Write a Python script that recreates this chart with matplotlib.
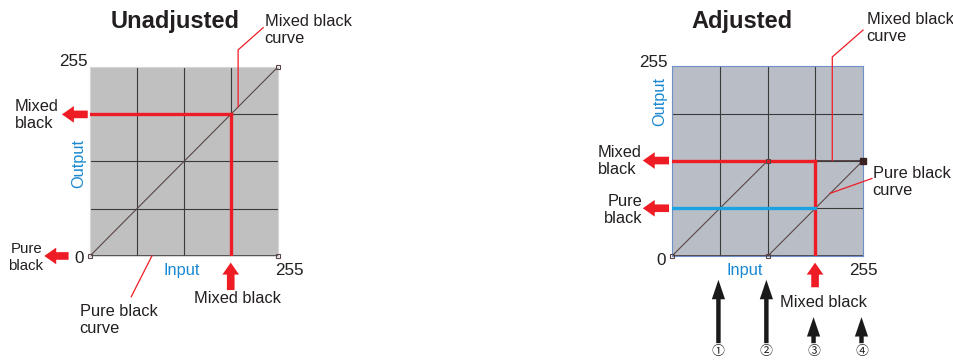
import matplotlib
matplotlib.use("Agg")
import matplotlib.pyplot as plt

plt.rcParams['font.family'] = ['Liberation Sans', 'Noto Sans CJK JP']

# ---- data (0-255 tone levels) ----
GRID_LEVELS = [64, 128, 191]
UNADJ_CURVE_X = [0, 255]
UNADJ_CURVE_Y = [0, 255]
UNADJ_POINTS_X = [0, 255, 255]
UNADJ_POINTS_Y = [0, 255, 0]
UNADJ_MIXED_IN = 191
UNADJ_MIXED_OUT = 191

ADJ_MIXED_X = [0, 128, 255]
ADJ_MIXED_Y = [0, 128, 128]
ADJ_PURE_X = [0, 128, 255]
ADJ_PURE_Y = [0, 0, 128]
ADJ_MIXED_IN = 191
ADJ_MIXED_OUT = 128
ADJ_PURE_OUT = 64
INPUT_MARKS = [64, 128, 191, 255]
INPUT_LABELS = ['①', '②', '③', '④']

RED = '#ee1c25'
BLUE_TXT = '#1a88d0'
BLUE_LINE = '#1aa3e0'
CURVE = '#5a4646'
GRID = '#3a3a3a'
TXT = '#231f20'
FS = 11.8


def red_arrow(ax, tip, tail):
    ax.annotate('', xy=tip, xytext=tail, annotation_clip=False,
                arrowprops=dict(arrowstyle='simple,head_length=0.86,head_width=1.2,tail_width=0.55',
                                mutation_scale=10, color=RED, shrinkA=0, shrinkB=0, lw=0))


def black_arrow(ax, tip, tail):
    ax.annotate('', xy=tip, xytext=tail, annotation_clip=False,
                arrowprops=dict(arrowstyle='simple,head_length=1.4,head_width=0.95,tail_width=0.32',
                                mutation_scale=10, color='#1a1a1a', shrinkA=0, shrinkB=0, lw=0))


def setup(ax, bg, edge):
    ax.set_xlim(0, 255)
    ax.set_ylim(0, 255)
    ax.set_facecolor(bg)
    ax.set_xticks([])
    ax.set_yticks([])
    for s in ax.spines.values():
        s.set_color(edge)
        s.set_linewidth(0.8)
    for g in GRID_LEVELS:
        ax.axvline(g, color=GRID, lw=0.8, zorder=1)
        ax.axhline(g, color=GRID, lw=0.8, zorder=1)
    ax.axhline(0, color=GRID, lw=1.2, zorder=1)


fig = plt.figure(figsize=(9.54, 3.6), dpi=100)

# ================= Unadjusted =================
ax1 = fig.add_axes([0.0943, 0.289, 0.197, 0.525])
setup(ax1, '#c0c0c0', '#d6d6d6')
ax1.plot(UNADJ_CURVE_X, UNADJ_CURVE_Y, color=CURVE, lw=0.8, zorder=2)
ax1.plot(UNADJ_POINTS_X, UNADJ_POINTS_Y, ls='none', marker='s', ms=3.5, mfc='none',
         mec=CURVE, mew=0.8, clip_on=False, zorder=4)
ax1.plot([0, UNADJ_MIXED_IN], [UNADJ_MIXED_OUT, UNADJ_MIXED_OUT], color=RED, lw=2.4, zorder=3)
ax1.plot([UNADJ_MIXED_IN, UNADJ_MIXED_IN], [0, UNADJ_MIXED_OUT], color=RED, lw=2.4, zorder=3)

ax1.text(116, 316, 'Unadjusted', ha='center', va='center', fontsize=17, fontweight='bold', color=TXT)
ax1.text(237, 305, 'Mixed black\ncurve', ha='left', va='center', fontsize=FS, linespacing=1.15, color=TXT)
ax1.plot([201, 201, 235], [201, 278, 308], color=RED, lw=0.9, clip_on=False, zorder=5)
ax1.text(-102, 190, 'Mixed\nblack', ha='left', va='center', fontsize=FS, linespacing=1.15, color=TXT)
red_arrow(ax1, (-38, 191), (-3, 191))
ax1.text(-64, -2, 'Pure\nblack', ha='right', va='center', fontsize=FS - 1, linespacing=1.2, color=TXT)
red_arrow(ax1, (-62, 0), (-29, 0))
ax1.text(-22, 262, '255', ha='center', va='center', fontsize=FS + 0.5, color=TXT)
ax1.text(-15, -4, '0', ha='center', va='center', fontsize=FS + 0.5, color=TXT)
ax1.text(271, -20, '255', ha='center', va='center', fontsize=FS + 0.5, color=TXT)
ax1.text(125, -19, 'Input', ha='center', va='center', fontsize=FS, color=BLUE_TXT)
ax1.text(-15, 125, 'Output', ha='center', va='center', fontsize=FS, rotation=90, color=BLUE_TXT)
red_arrow(ax1, (UNADJ_MIXED_IN, -9), (UNADJ_MIXED_IN, -46))
ax1.text(200, -57, 'Mixed black', ha='center', va='center', fontsize=FS, color=TXT)
ax1.text(-14, -86, 'Pure black\ncurve', ha='left', va='center', fontsize=FS, linespacing=1.15, color=TXT)
ax1.plot([84, 56], [0, -55], color=RED, lw=0.9, clip_on=False, zorder=5)

# ================= Adjusted =================
ax2 = fig.add_axes([0.7044, 0.289, 0.2002, 0.528])
setup(ax2, '#b9bec6', '#6f8fc8')
ax2.plot(ADJ_MIXED_X, ADJ_MIXED_Y, color=CURVE, lw=0.8, zorder=2)
ax2.plot(ADJ_PURE_X, ADJ_PURE_Y, color=CURVE, lw=0.8, zorder=2)
ax2.plot([0, ADJ_MIXED_IN], [ADJ_MIXED_OUT, ADJ_MIXED_OUT], color=RED, lw=2.4, zorder=3)
ax2.plot([ADJ_MIXED_IN, ADJ_MIXED_IN], [0, ADJ_MIXED_OUT], color=RED, lw=2.4, zorder=3)
ax2.plot([0, ADJ_MIXED_IN], [ADJ_PURE_OUT, ADJ_PURE_OUT], color=BLUE_LINE, lw=2.4, zorder=3)
ax2.plot(ADJ_MIXED_X[:2], ADJ_MIXED_Y[:2], ls='none', marker='s', ms=3.5, mfc='none',
         mec=CURVE, mew=0.8, clip_on=False, zorder=4)
ax2.plot(ADJ_PURE_X[1:2], ADJ_PURE_Y[1:2], ls='none', marker='s', ms=3.5, mfc='none',
         mec=CURVE, mew=0.8, clip_on=False, zorder=4)
ax2.plot(ADJ_MIXED_X[2:], ADJ_MIXED_Y[2:], ls='none', marker='s', ms=4, mfc='#3a2222',
         mec='#3a2222', clip_on=False, zorder=4)

ax2.text(93, 314, 'Adjusted', ha='center', va='center', fontsize=17, fontweight='bold', color=TXT)
ax2.text(260, 306, 'Mixed black\ncurve', ha='left', va='center', fontsize=FS, linespacing=1.15, color=TXT)
ax2.plot([214, 214, 255], [ADJ_MIXED_OUT, 267, 303], color=RED, lw=0.9, clip_on=False, zorder=5)
ax2.text(268, 99, 'Pure black\ncurve', ha='left', va='center', fontsize=FS, linespacing=1.15, color=TXT)
ax2.plot([211, 267], [84, 104], color=RED, lw=0.9, clip_on=False, zorder=5)
ax2.text(-99, 127, 'Mixed\nblack', ha='left', va='center', fontsize=FS, linespacing=1.15, color=TXT)
red_arrow(ax2, (-39, ADJ_MIXED_OUT), (-4, ADJ_MIXED_OUT))
ax2.text(-40, 62, 'Pure\nblack', ha='right', va='center', fontsize=FS, linespacing=1.15, color=TXT)
red_arrow(ax2, (-39, ADJ_PURE_OUT), (-4, ADJ_PURE_OUT))
ax2.text(-25, 260, '255', ha='center', va='center', fontsize=FS + 0.5, color=TXT)
ax2.text(-15, -6, '0', ha='center', va='center', fontsize=FS + 0.5, color=TXT)
ax2.text(255, -19, '255', ha='center', va='center', fontsize=FS + 0.5, color=TXT)
ax2.text(97, -19, 'Input', ha='center', va='center', fontsize=FS, color=BLUE_TXT)
ax2.text(-17, 207, 'Output', ha='center', va='center', fontsize=FS, rotation=90, color=BLUE_TXT)
red_arrow(ax2, (ADJ_MIXED_IN, -9), (ADJ_MIXED_IN, -42))
ax2.text(202, -62, 'Mixed black', ha='center', va='center', fontsize=FS, color=TXT)

for i, (x, lab) in enumerate(zip(INPUT_MARKS, INPUT_LABELS)):
    tip_y = -32 if i < 2 else -82
    black_arrow(ax2, (x - 2, tip_y), (x - 2, -117))
    ax2.text(x - 2, -129, lab, ha='center', va='center', fontsize=FS - 2.5, color=TXT)

fig.savefig('out.png', dpi=100)
